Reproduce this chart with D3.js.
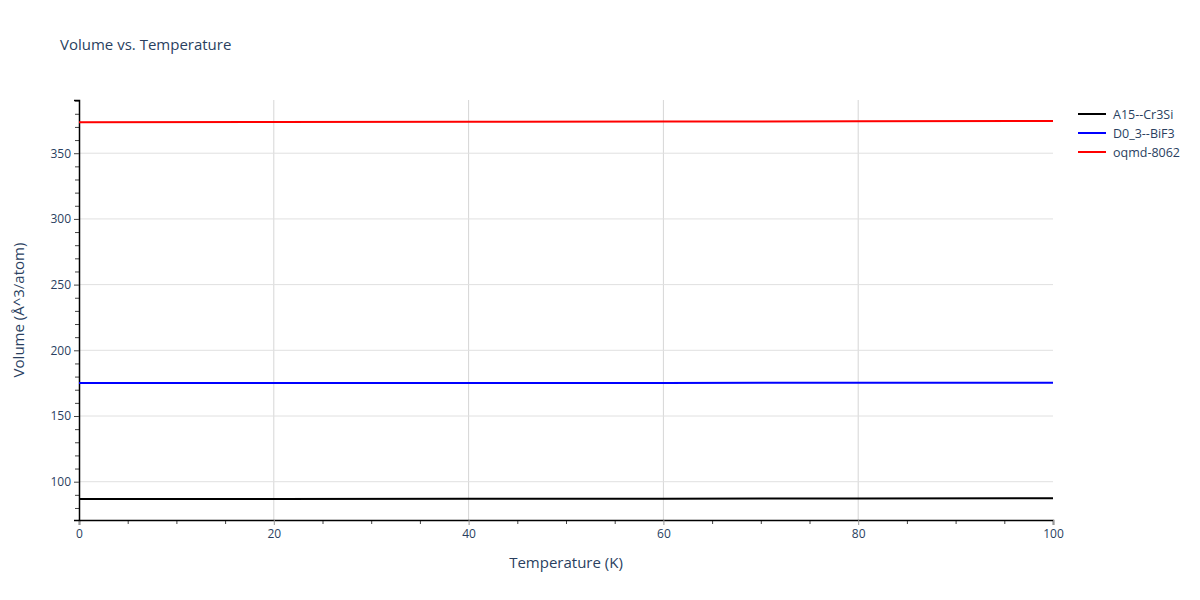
<!DOCTYPE html>
<html>
<head>
<meta charset="utf-8">
<script src="https://cdn.jsdelivr.net/npm/d3@7"></script>
<style>
  body { margin: 0; background: #fff; }
  text { font-family: "Open Sans", Verdana, Arial, sans-serif; }
</style>
</head>
<body>
<svg id="chart"></svg>
<script>
// data
const temperatures = [0, 20, 40, 60, 80, 100];
const seriesNames = ['A15--Cr3Si', 'D0_3--BiF3', 'oqmd-8062'];
const cr3siVolume = [86.8, 86.9, 87.0, 87.1, 87.3, 87.4];
const bif3Volume = [175.1, 175.1, 175.2, 175.2, 175.3, 175.3];
const oqmdVolume = [373.5, 373.7, 373.9, 374.1, 374.3, 374.5];
const seriesColors = ['#000000', '#0000ff', '#ff0000'];
const xTicks = [0, 20, 40, 60, 80, 100];
const yTicks = [100, 150, 200, 250, 300, 350];

const width = 1200, height = 600;
const margin = { top: 100, right: 147, bottom: 80, left: 79 };
const innerW = width - margin.left - margin.right;
const innerH = height - margin.top - margin.bottom;
const textColor = '#2a3f5f';

const svg = d3.select('#chart')
  .attr('width', width)
  .attr('height', height);

const g = svg.append('g')
  .attr('transform', `translate(${margin.left},${margin.top})`);

const x = d3.scaleLinear().domain([0, 100]).range([0, innerW]);
const y = d3.scaleLinear().domain([70.85, 390.5]).range([innerH, 0]);

// grid
g.append('g')
  .selectAll('line')
  .data(xTicks.slice(1, -1))
  .enter()
  .append('line')
  .attr('x1', d => x(d)).attr('x2', d => x(d))
  .attr('y1', 0).attr('y2', innerH)
  .attr('stroke', '#d6d6d6').attr('stroke-width', 1);

g.append('g')
  .selectAll('line')
  .data(yTicks)
  .enter()
  .append('line')
  .attr('x1', 0).attr('x2', innerW)
  .attr('y1', d => y(d)).attr('y2', d => y(d))
  .attr('stroke', '#e0e0e0').attr('stroke-width', 1);

// minor ticks
g.append('g')
  .attr('transform', `translate(0,${innerH})`)
  .call(d3.axisBottom(x).tickValues(d3.range(5, 100, 5).filter(v => v % 20)).tickSize(4).tickFormat(''))
  .call(a => a.select('.domain').remove())
  .call(a => a.selectAll('line').attr('stroke', '#444'));

g.append('g')
  .call(d3.axisLeft(y).tickValues(d3.range(80, 391, 10).filter(v => v % 50)).tickSize(4).tickFormat(''))
  .call(a => a.select('.domain').remove())
  .call(a => a.selectAll('line').attr('stroke', '#444'));

// X axis
const xAxis = g.append('g')
  .attr('transform', `translate(0,${innerH})`)
  .call(d3.axisBottom(x).tickValues(xTicks).tickSize(5).tickPadding(4));
xAxis.select('.domain').attr('stroke', '#000').attr('stroke-width', 1.5);
xAxis.selectAll('line').attr('stroke', '#999');
xAxis.selectAll('text').attr('fill', textColor).style('font-size', '12px');

// Y axis
const yAxis = g.append('g')
  .call(d3.axisLeft(y).tickValues(yTicks).tickSize(5).tickPadding(3));
yAxis.select('.domain').attr('stroke', '#000').attr('stroke-width', 1.5);
yAxis.selectAll('line').attr('stroke', '#444');
yAxis.selectAll('text').attr('fill', textColor).style('font-size', '12px');

// Lines
const allSeries = [cr3siVolume, bif3Volume, oqmdVolume];
const line = d3.line()
  .x((d, i) => x(temperatures[i]))
  .y(d => y(d));

g.append('g')
  .selectAll('path')
  .data(allSeries)
  .enter()
  .append('path')
  .attr('d', line)
  .attr('fill', 'none')
  .attr('stroke', (d, i) => seriesColors[i])
  .attr('stroke-width', 2);

// Title
svg.append('text')
  .attr('x', 60).attr('y', 50)
  .attr('fill', textColor)
  .style('font-size', '15px')
  .text('Volume vs. Temperature');

// X axis label
svg.append('text')
  .attr('text-anchor', 'middle')
  .attr('x', margin.left + innerW / 2)
  .attr('y', 568)
  .attr('fill', textColor)
  .style('font-size', '15px')
  .text('Temperature (K)');

// Y axis label
svg.append('text')
  .attr('text-anchor', 'middle')
  .attr('transform', `translate(24,${margin.top + innerH / 2}) rotate(-90)`)
  .attr('fill', textColor)
  .style('font-size', '15px')
  .text('Volume (Å^3/atom)');

// Legend
const legend = svg.append('g')
  .attr('transform', 'translate(1077,114)');
const items = legend.selectAll('g')
  .data(seriesNames)
  .enter()
  .append('g')
  .attr('transform', (d, i) => `translate(0,${i * 19})`);
items.append('line')
  .attr('x1', 1).attr('x2', 29)
  .attr('stroke', (d, i) => seriesColors[i])
  .attr('stroke-width', 2);
items.append('text')
  .attr('x', 36).attr('y', 4.5)
  .attr('fill', textColor)
  .style('font-size', '12.5px')
  .text(d => d);
</script>
</body>
</html>
